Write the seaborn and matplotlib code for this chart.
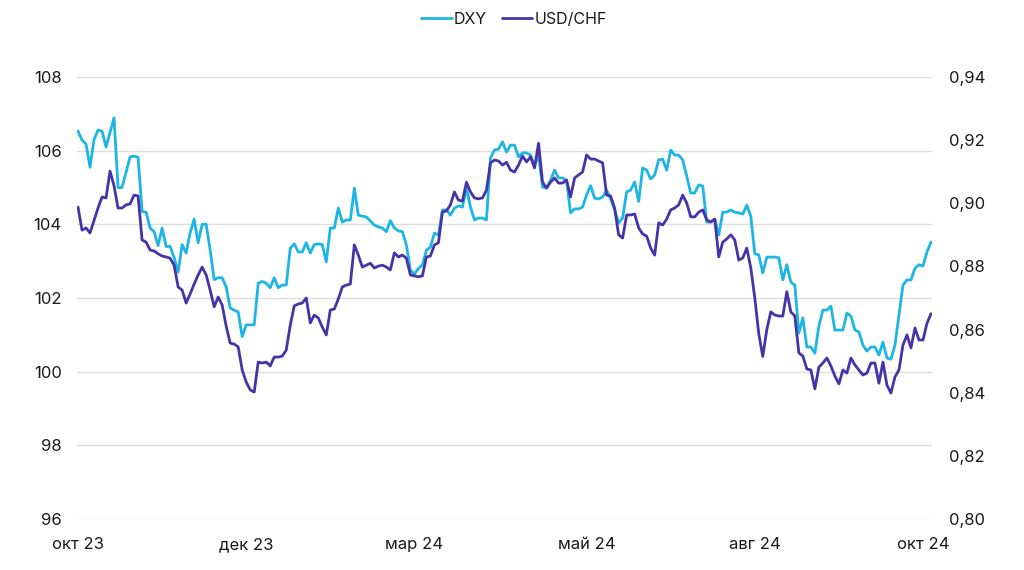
import matplotlib
matplotlib.use("Agg")
import matplotlib.pyplot as plt
import pandas as pd
import seaborn as sns
from matplotlib.ticker import FuncFormatter

# daily points (left axis: DXY, right axis: USD/CHF)
DXY = [
    106.53, 106.29, 106.18, 105.55, 106.30, 106.56, 106.53, 106.10, 106.50, 106.89,
    105.00, 105.00, 105.42, 105.83, 105.85, 105.82, 104.35, 104.33, 103.90, 103.80,
    103.42, 103.90, 103.40, 103.40, 103.10, 102.70, 103.45, 103.22, 103.77, 104.14,
    103.50, 104.00, 104.00, 103.30, 102.50, 102.55, 102.55, 102.30, 101.73, 101.67,
    101.62, 100.95, 101.27, 101.27, 101.27, 102.40, 102.45, 102.40, 102.28, 102.55,
    102.28, 102.35, 102.35, 103.35, 103.47, 103.25, 103.25, 103.50, 103.22, 103.45,
    103.47, 103.45, 102.98, 103.90, 103.90, 104.44, 104.06, 104.12, 104.12, 104.98,
    104.25, 104.22, 104.20, 104.09, 103.98, 103.93, 103.90, 103.80, 104.10, 103.90,
    103.82, 103.80, 103.44, 102.76, 102.65, 102.80, 102.90, 103.30, 103.38, 103.76,
    103.71, 104.39, 104.39, 104.25, 104.44, 104.50, 104.47, 104.98, 104.47, 104.12,
    104.17, 104.17, 104.12, 105.80, 106.02, 106.04, 106.24, 105.96, 106.15, 106.15,
    105.83, 105.94, 105.94, 105.88, 105.60, 105.88, 105.01, 104.99, 105.20, 105.47,
    105.26, 105.26, 105.18, 104.31, 104.42, 104.42, 104.47, 104.80, 105.05, 104.71,
    104.69, 104.74, 104.93, 104.69, 104.39, 104.04, 104.17, 104.88, 104.93, 105.15,
    104.62, 105.53, 105.47, 105.23, 105.34, 105.75, 105.77, 105.47, 106.02, 105.88,
    105.88, 105.75, 105.31, 104.85, 104.85, 105.07, 105.04, 104.06, 104.06, 104.14,
    103.71, 104.33, 104.33, 104.39, 104.33, 104.31, 104.28, 104.52, 104.22, 103.20,
    103.17, 102.68, 103.11, 103.11, 103.11, 103.09, 102.49, 102.90, 102.43, 102.35,
    101.05, 101.46, 100.67, 100.67, 100.50, 101.24, 101.67, 101.67, 101.78, 101.13,
    101.13, 101.13, 101.59, 101.51, 101.13, 101.08, 100.72, 100.56, 100.67, 100.67,
    100.45, 100.80, 100.37, 100.34, 100.72, 101.54, 102.35, 102.49, 102.49, 102.81,
    102.90, 102.87, 103.25, 103.52,
]
USD_CHF = [
    0.8988, 0.8915, 0.8922, 0.8906, 0.8945, 0.8985, 0.9020, 0.9017, 0.9102, 0.9055,
    0.8985, 0.8985, 0.8995, 0.8998, 0.9026, 0.9023, 0.8884, 0.8877, 0.8852, 0.8849,
    0.8840, 0.8833, 0.8830, 0.8826, 0.8804, 0.8735, 0.8725, 0.8684, 0.8713, 0.8744,
    0.8773, 0.8798, 0.8773, 0.8725, 0.8672, 0.8703, 0.8678, 0.8611, 0.8557, 0.8554,
    0.8545, 0.8472, 0.8434, 0.8409, 0.8402, 0.8497, 0.8494, 0.8497, 0.8485, 0.8513,
    0.8513, 0.8516, 0.8535, 0.8614, 0.8675, 0.8681, 0.8684, 0.8700, 0.8621, 0.8646,
    0.8637, 0.8608, 0.8583, 0.8662, 0.8665, 0.8697, 0.8735, 0.8741, 0.8744, 0.8868,
    0.8836, 0.8798, 0.8804, 0.8810, 0.8795, 0.8801, 0.8804, 0.8798, 0.8789, 0.8843,
    0.8830, 0.8836, 0.8826, 0.8773, 0.8770, 0.8767, 0.8770, 0.8830, 0.8833, 0.8868,
    0.8875, 0.8972, 0.8976, 0.8995, 0.9036, 0.9010, 0.9007, 0.9067, 0.9036, 0.9017,
    0.9014, 0.9017, 0.9042, 0.9128, 0.9137, 0.9134, 0.9121, 0.9130, 0.9105, 0.9099,
    0.9121, 0.9150, 0.9131, 0.9147, 0.9112, 0.9190, 0.9067, 0.9048, 0.9067, 0.9080,
    0.9064, 0.9064, 0.9074, 0.9020, 0.9080, 0.9090, 0.9099, 0.9153, 0.9140, 0.9140,
    0.9134, 0.9128, 0.9026, 0.9023, 0.8985, 0.8900, 0.8890, 0.8963, 0.8963, 0.8966,
    0.8922, 0.8903, 0.8896, 0.8858, 0.8836, 0.8938, 0.8931, 0.8950, 0.8979, 0.8985,
    0.8995, 0.9026, 0.9001, 0.8957, 0.8957, 0.8972, 0.8979, 0.8947, 0.8941, 0.8950,
    0.8830, 0.8877, 0.8887, 0.8900, 0.8884, 0.8820, 0.8827, 0.8858, 0.8795, 0.8700,
    0.8586, 0.8515, 0.8600, 0.8656, 0.8646, 0.8643, 0.8643, 0.8720, 0.8656, 0.8643,
    0.8526, 0.8516, 0.8475, 0.8472, 0.8412, 0.8481, 0.8494, 0.8510, 0.8485, 0.8453,
    0.8428, 0.8472, 0.8462, 0.8510, 0.8488, 0.8472, 0.8456, 0.8462, 0.8494, 0.8494,
    0.8430, 0.8497, 0.8424, 0.8399, 0.8450, 0.8472, 0.8551, 0.8583, 0.8542, 0.8605,
    0.8567, 0.8567, 0.8620, 0.8650,
]
TICK_POS = [0, 42, 84, 127, 169, 211]
TICK_LABELS = ["окт 23", "дек 23", "мар 24", "май 24", "авг 24", "окт 24"]
LEFT_TICKS = [96, 98, 100, 102, 104, 106, 108]
RIGHT_TICKS = [0.80, 0.82, 0.84, 0.86, 0.88, 0.90, 0.92, 0.94]

DXY_COLOR = "#1db5e4"
CHF_COLOR = "#4733a8"
TEXT_COLOR = "#1a1a1a"

df = pd.DataFrame({"idx": range(len(DXY)), "DXY": DXY, "USD/CHF": USD_CHF})

sns.set_theme(style="white")
plt.rcParams["font.family"] = ["Inter", "DejaVu Sans"]
plt.rcParams["font.size"] = 12

fig = plt.figure(figsize=(10.24, 5.7), dpi=100)
ax = fig.add_axes([77 / 1024, 51 / 570, 855 / 1024, 442 / 570])
ax2 = ax.twinx()

line_kw = dict(linewidth=2.0, solid_joinstyle="round", solid_capstyle="round", legend=False)
sns.lineplot(data=df, x="idx", y="DXY", ax=ax, color=DXY_COLOR, **line_kw)
sns.lineplot(data=df, x="idx", y="USD/CHF", ax=ax2, color=CHF_COLOR, **line_kw)

ax.set_xlim(-0.25, len(DXY) - 0.75)
ax.set_ylim(96, 108)
ax.set_yticks(LEFT_TICKS)
ax2.set_ylim(0.80, 0.94)
ax2.set_yticks(RIGHT_TICKS)
ax2.yaxis.set_major_formatter(FuncFormatter(lambda v, _: f"{v:.2f}".replace(".", ",")))
ax.set_xticks(TICK_POS)
ax.set_xticklabels(TICK_LABELS)

for a in (ax, ax2):
    a.set_xlabel("")
    a.set_ylabel("")
    for s in a.spines.values():
        s.set_visible(False)
ax.yaxis.grid(True, color="#dedede", linewidth=1)
ax.xaxis.grid(False)
ax2.grid(False)
ax.tick_params(axis="y", length=0, pad=11, labelsize=12, labelcolor=TEXT_COLOR)
ax.tick_params(axis="x", length=0, pad=13, labelsize=12, labelcolor=TEXT_COLOR)
ax2.tick_params(axis="y", length=0, pad=12, labelsize=12, labelcolor=TEXT_COLOR)

handles = [ax.lines[0], ax2.lines[0]]
fig.legend(
    handles,
    ["DXY", "USD/CHF"],
    loc="center",
    bbox_to_anchor=(0.502, 0.966),
    ncol=2,
    frameon=False,
    handlelength=1.9,
    handletextpad=0.15,
    columnspacing=0.9,
    fontsize=11.5,
    labelcolor=TEXT_COLOR,
)

fig.savefig("out.png", dpi=100)
